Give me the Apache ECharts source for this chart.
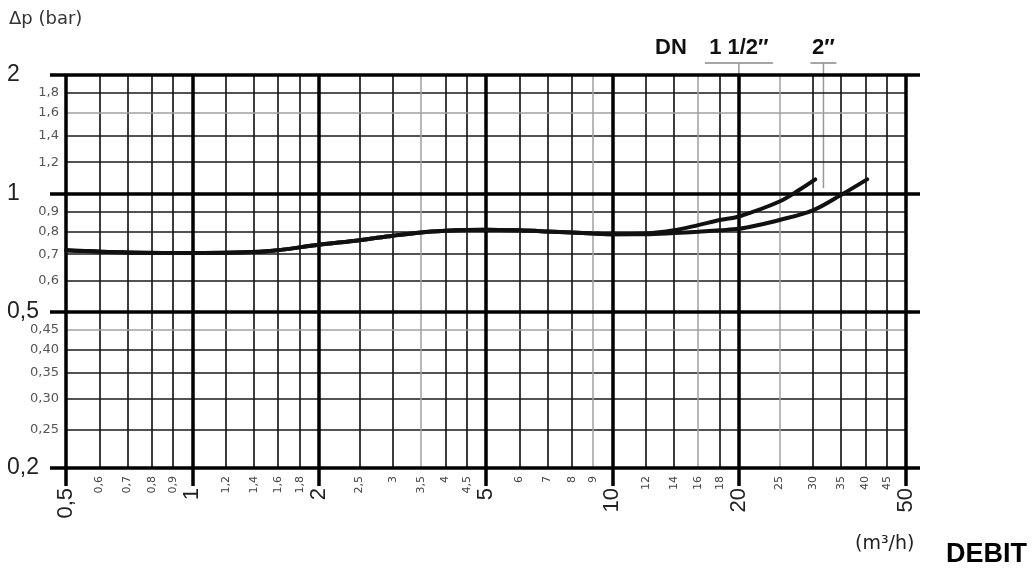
<!DOCTYPE html>
<html><head><meta charset="utf-8">
<script src="https://cdn.jsdelivr.net/npm/echarts@6/dist/echarts.min.js"></script>
<style>html,body{margin:0;padding:0;background:#fff}#c{width:1035px;height:569px}</style>
</head><body><div id="c"></div>
<script>
// ---- data ----
const xMin = 0.5, xMax = 50, yMin = 0.2, yMax = 2;
const xMajorTicks = [0.5, 1, 2, 5, 10, 20, 50];
const xMinorTicks = [0.6, 0.7, 0.8, 0.9, 1.2, 1.4, 1.6, 1.8, 2.5, 3, 3.5, 4, 4.5, 6, 7, 8, 9, 12, 14, 16, 18, 25, 30, 35, 40, 45];
const xGrayLines = [3.5, 9, 16, 25];
const yMajorTicks = [0.2, 0.5, 1, 2];
const yMinorTicks = [0.25, 0.3, 0.35, 0.4, 0.45, 0.6, 0.7, 0.8, 0.9, 1.2, 1.4, 1.6, 1.8];
const yGrayLines = [0.45, 1.6];
const dnLabels = ['1 1/2\u2033', '2\u2033'];
const dnMarkerX = [20, 31.8];
const dnMarkerYEnd = [2, 1.03];
const dn15X = [0.5, 0.7, 1, 1.5, 2, 2.5, 3, 3.5, 4, 4.5, 5, 6, 7, 8, 9, 10, 12, 14, 16, 18, 20, 25, 28, 30.4];
const dn15Y = [0.716, 0.707, 0.705, 0.712, 0.74, 0.76, 0.78, 0.795, 0.803, 0.807, 0.808, 0.805, 0.80, 0.795, 0.79, 0.787, 0.79, 0.805, 0.83, 0.855, 0.873, 0.953, 1.024, 1.085];
const dn2X = [0.5, 0.7, 1, 1.5, 2, 2.5, 3, 3.5, 4, 4.5, 5, 6, 7, 8, 9, 10, 12, 14, 16, 18, 20, 22, 25, 30, 35, 40.4];
const dn2Y = [0.716, 0.707, 0.705, 0.712, 0.74, 0.76, 0.78, 0.795, 0.803, 0.807, 0.808, 0.805, 0.80, 0.795, 0.79, 0.787, 0.787, 0.792, 0.798, 0.805, 0.812, 0.828, 0.855, 0.905, 0.99, 1.085];

// ---- helpers ----
const fmt = v => String(+(+v).toPrecision(6)).replace('.', ',');
const fmtY = v => { v = +(+v).toPrecision(6); return (v < 0.5 ? v.toFixed(2) : String(v)).replace('.', ','); };
const thin = {color: '#1a1a1a', width: 1.7, type: 'solid'};
const gray = {color: '#a0a0a0', width: 1.5, type: 'solid'};
const thick = {color: '#000', width: 3.5, type: 'solid'};

const gridLines = [];
xMinorTicks.filter(v => xGrayLines.indexOf(v) < 0).forEach(v => gridLines.push({xAxis: v, lineStyle: thin}));
yMinorTicks.filter(v => yGrayLines.indexOf(v) < 0).forEach(v => gridLines.push({yAxis: v, lineStyle: thin}));
xGrayLines.forEach(v => gridLines.push({xAxis: v, lineStyle: gray}));
yGrayLines.forEach(v => gridLines.push({yAxis: v, lineStyle: gray}));
xMajorTicks.forEach(v => gridLines.push({xAxis: v, lineStyle: thick}));
yMajorTicks.forEach(v => gridLines.push({yAxis: v, lineStyle: thick}));

const chart = echarts.init(document.getElementById('c'), null, {renderer: 'canvas'});
const baseX = {type: 'log', logBase: 10, min: xMin, max: xMax, gridIndex: 0, splitLine: {show: false}, minorTick: {show: false}, minorSplitLine: {show: false}};
const baseY = {type: 'log', logBase: 10, min: yMin, max: yMax, gridIndex: 0, splitLine: {show: false}, minorTick: {show: false}, minorSplitLine: {show: false}};

const option = {
  animation: false,
  backgroundColor: '#fff',
  grid: {left: 66, right: 129, top: 75, bottom: 101},
  xAxis: [
    Object.assign({}, baseX, {
      position: 'bottom',
      axisLine: {show: false},
      axisTick: {show: true, customValues: xMajorTicks, length: 18, lineStyle: {color: '#000', width: 3.5}},
      axisLabel: {show: true, customValues: xMinorTicks, rotate: 90, margin: 8, fontSize: 11, color: '#444', fontFamily: 'DejaVu Sans', formatter: fmt}
    }),
    Object.assign({}, baseX, {
      position: 'bottom',
      axisLine: {show: false},
      axisTick: {show: false},
      axisLabel: {show: true, customValues: xMajorTicks, rotate: 90, margin: 20, fontSize: 22, color: '#222', fontFamily: 'Liberation Sans', formatter: fmt}
    })
  ],
  yAxis: [
    Object.assign({}, baseY, {
      position: 'left',
      axisLine: {show: false},
      axisTick: {show: true, customValues: yMajorTicks, length: 16, lineStyle: {color: '#000', width: 3.5}},
      axisLabel: {show: true, customValues: yMinorTicks, margin: 7, fontSize: 13, color: '#555', fontFamily: 'DejaVu Sans', formatter: fmtY}
    }),
    Object.assign({}, baseY, {
      position: 'left',
      axisLine: {show: false},
      axisTick: {show: false},
      axisLabel: {show: true, customValues: yMajorTicks, margin: 59, align: 'left', fontSize: 23, color: '#222', fontFamily: 'Liberation Sans', formatter: fmt}
    }),
    Object.assign({}, baseY, {
      position: 'right',
      axisLine: {show: false},
      axisTick: {show: true, customValues: yMajorTicks, length: 14, lineStyle: {color: '#000', width: 3.5}},
      axisLabel: {show: false}
    })
  ],
  series: [
    {
      type: 'line', name: 'grid', xAxisIndex: 0, yAxisIndex: 0, z: 1,
      data: [[xMin, yMin]], showSymbol: false, symbol: 'none', lineStyle: {width: 0}, silent: true,
      markLine: {silent: true, symbol: ['none', 'none'], label: {show: false}, animation: false, data: gridLines}
    },
    {
      type: 'line', name: 'DN 1 1/2\u2033', xAxisIndex: 0, yAxisIndex: 0, z: 5,
      data: dn15X.map((x, i) => [x, dn15Y[i]]), smooth: 0.35, showSymbol: false, symbol: 'none',
      lineStyle: {color: '#111', width: 4, cap: 'round'}
    },
    {
      type: 'line', name: 'DN 2\u2033', xAxisIndex: 0, yAxisIndex: 0, z: 5,
      data: dn2X.map((x, i) => [x, dn2Y[i]]), smooth: 0.35, showSymbol: false, symbol: 'none',
      lineStyle: {color: '#111', width: 4, cap: 'round'}
    }
  ]
};
chart.setOption(option);

// ---- annotations positioned through the chart's own scales ----
const p0 = chart.convertToPixel({gridIndex: 0}, [dnMarkerX[0], yMax]);
const p1 = chart.convertToPixel({gridIndex: 0}, [dnMarkerX[1], yMax]);
const p1end = chart.convertToPixel({gridIndex: 0}, [dnMarkerX[1], dnMarkerYEnd[1]]);
const underY = 63;
const lblFont = 'bold 22px "Liberation Sans", Arial, sans-serif';
chart.setOption({
  graphic: [
    {type: 'text', left: 9, top: 10, style: {text: '\u0394p (bar)', font: '18px "DejaVu Sans", sans-serif', fill: '#333'}},
    {type: 'text', x: p0[0] - 52, y: underY - 4, style: {text: 'DN', font: lblFont, fill: '#111', align: 'right', verticalAlign: 'bottom'}},
    {type: 'text', x: p0[0], y: underY - 4, style: {text: dnLabels[0], font: lblFont, fill: '#111', align: 'center', verticalAlign: 'bottom'}},
    {type: 'text', x: p1[0], y: underY - 4, style: {text: dnLabels[1], font: lblFont, fill: '#111', align: 'center', verticalAlign: 'bottom'}},
    {type: 'line', shape: {x1: p0[0] - 34, y1: underY, x2: p0[0] + 34, y2: underY}, style: {stroke: '#888', lineWidth: 1.5}},
    {type: 'line', shape: {x1: p1[0] - 13, y1: underY, x2: p1[0] + 13, y2: underY}, style: {stroke: '#888', lineWidth: 1.5}},
    {type: 'line', shape: {x1: p0[0], y1: underY, x2: p0[0], y2: p0[1]}, style: {stroke: '#999', lineWidth: 1.5}},
    {type: 'line', z: 0, shape: {x1: p1[0], y1: underY, x2: p1[0], y2: p1end[1]}, style: {stroke: '#999', lineWidth: 1.5}},
    {type: 'text', x: 855, y: 535, style: {text: '(m\u00b3/h)', font: '19px "DejaVu Sans", sans-serif', fill: '#222'}},
    {type: 'text', x: 946, y: 541, style: {text: 'DEBIT', font: 'bold 27px "Liberation Sans", Arial, sans-serif', fill: '#000'}}
  ]
});
</script>
</body></html>
